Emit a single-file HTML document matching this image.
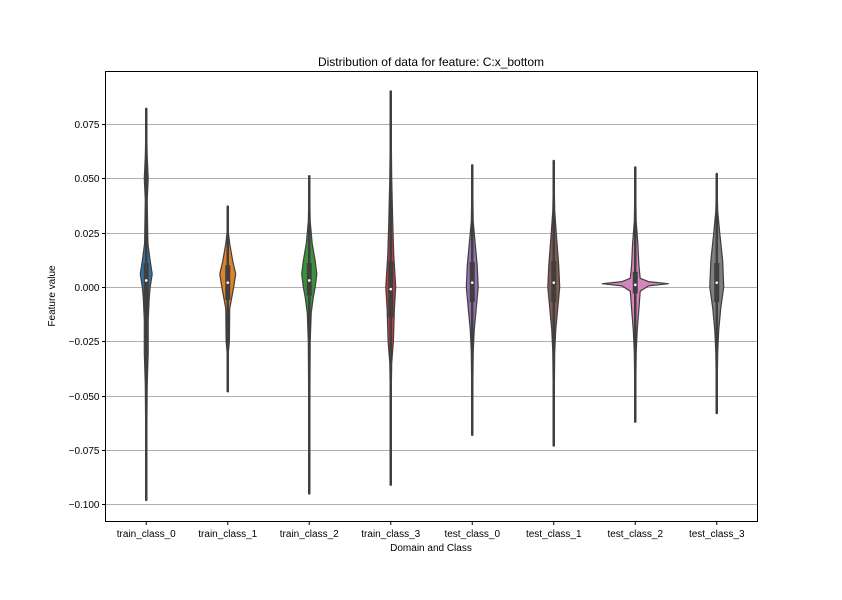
<!DOCTYPE html>
<html><head><meta charset="utf-8"><style>
body{margin:0;background:#fff}
text{font-family:"Liberation Sans",sans-serif;fill:#000}
</style></head><body>
<svg id="chart" width="842" height="595" viewBox="0 0 842 595" xmlns="http://www.w3.org/2000/svg">
<rect width="842" height="595" fill="#fff"/>
<g id="grid"></g>
<g id="violins"></g>
<rect x="105.5" y="71.5" width="652" height="450" fill="none" stroke="#000" stroke-width="1"/>
<g id="yticks"></g>
<g id="xticks"></g>
<text x="431" y="66" font-size="12" text-anchor="middle">Distribution of data for feature: C:x_bottom</text>
<text x="431" y="551" font-size="10" text-anchor="middle">Domain and Class</text>
<text transform="translate(55,296) rotate(-90)" font-size="10" text-anchor="middle">Feature value</text>
</svg>
<script>
const categories=["train_class_0","train_class_1","train_class_2","train_class_3","test_class_0","test_class_1","test_class_2","test_class_3"];
const colors=["#3274a1","#e1812c","#3a923a","#c03d3e","#9372b2","#845b53","#d684bd","#7f7f7f"];
const mins=[-0.098,-0.048,-0.095,-0.091,-0.068,-0.073,-0.062,-0.058];
const maxs=[0.082,0.037,0.051,0.090,0.056,0.058,0.055,0.052];
const q1s=[-0.013,-0.006,-0.004,-0.014,-0.007,-0.007,-0.003,-0.007];
const q3s=[0.011,0.010,0.011,0.012,0.0115,0.012,0.007,0.011];
const medians=[0.003,0.002,0.003,-0.001,0.002,0.002,0.001,0.002];
const densVals=[
 [0.082,0.06,0.05,0.04,0.02,0.012,0.006,0,-0.005,-0.015,-0.03,-0.045,-0.098],
 [0.037,0.025,0.02,0.012,0.006,0,-0.005,-0.01,-0.025,-0.03,-0.048],
 [0.051,0.03,0.02,0.012,0.006,0,-0.005,-0.012,-0.025,-0.095],
 [0.09,0.05,0.03,0.015,0,-0.01,-0.025,-0.035,-0.05,-0.091],
 [0.056,0.03,0.02,0.01,0,-0.01,-0.02,-0.03,-0.068],
 [0.058,0.035,0.022,0.01,0,-0.01,-0.02,-0.03,-0.073],
 [0.055,0.03,0.02,0.01,0.004,0.0025,0.0015,0.0005,-0.002,-0.01,-0.02,-0.03,-0.062],
 [0.052,0.035,0.025,0.012,0,-0.01,-0.02,-0.03,-0.058]];
const densities=[
 [0,0.03,0.06,0.03,0.05,0.12,0.18,0.12,0.09,0.06,0.06,0.03,0],
 [0,0.02,0.06,0.15,0.24,0.18,0.12,0.06,0.05,0.02,0],
 [0,0.03,0.09,0.18,0.23,0.18,0.12,0.06,0.03,0],
 [0,0.03,0.06,0.09,0.15,0.11,0.08,0.03,0.015,0],
 [0,0.03,0.09,0.15,0.18,0.12,0.06,0.03,0],
 [0,0.03,0.09,0.15,0.18,0.12,0.06,0.03,0],
 [0,0.03,0.08,0.11,0.15,0.4,1.0,0.4,0.15,0.11,0.06,0.03,0],
 [0,0.03,0.09,0.18,0.21,0.12,0.06,0.03,0]];
const yTicks=[0.075,0.05,0.025,0,-0.025,-0.05,-0.075,-0.1];
const yTickLabels=["0.075","0.050","0.025","0.000","\u22120.025","\u22120.050","\u22120.075","\u22120.100"];

const NS="http://www.w3.org/2000/svg";
const X0=105.5,X1=757.5;
function yScale(v){return 287-v*2172;}
function xScale(i){return X0+(i+0.5)*(X1-X0)/categories.length;}
const HALF=33;
function mk(tag,attrs,parent){const e=document.createElementNS(NS,tag);for(const k in attrs)e.setAttribute(k,attrs[k]);parent.appendChild(e);return e;}
const grid=document.getElementById('grid'),yt=document.getElementById('yticks'),xt=document.getElementById('xticks'),vg=document.getElementById('violins');
yTicks.forEach((t,i)=>{
 const y=Math.round(yScale(t))+0.5;
 const g=mk('line',{x1:X0,x2:X1,y1:y,y2:y,stroke:'#b0b0b0','stroke-width':1},grid);
 
 
 const tk=mk('line',{x1:X0-3.5,x2:X0,y1:y,y2:y,stroke:'#000'},yt);
 
 
 const tx=mk('text',{x:X0-6,y:y+3.5,'font-size':10,'text-anchor':'end'},yt);
 tx.textContent=yTickLabels[i];
 
 
});
categories.forEach((c,i)=>{
 const x=xScale(i);
 const tk=mk('line',{x1:x,x2:x,y1:521.5,y2:525,stroke:'#000'},xt);
 
 
 const tx=mk('text',{x:x,y:537,'font-size':10,'text-anchor':'middle'},xt);
 tx.textContent=c;
 
 
 const g=mk('g',{},vg);
 
 
 const vals=densVals[i],ds=densities[i];
 let pts=[];
 for(let k=0;k<vals.length;k++)pts.push((x+ds[k]*HALF).toFixed(1)+','+yScale(vals[k]).toFixed(1));
 for(let k=vals.length-1;k>=0;k--)pts.push((x-ds[k]*HALF).toFixed(1)+','+yScale(vals[k]).toFixed(1));
 const p=mk('polygon',{points:pts.join(' '),fill:colors[i],stroke:'#3f3f3f','stroke-width':1.2,'stroke-linejoin':'round'},g);
 
 
 const w=mk('line',{x1:x,x2:x,y1:yScale(maxs[i]),y2:yScale(mins[i]),stroke:'#3f3f3f','stroke-width':2.5,'stroke-linecap':'round'},g);
 
 
 const b=mk('rect',{x:x-2.5,y:yScale(q3s[i]),width:5,height:yScale(q1s[i])-yScale(q3s[i]),fill:'#3f3f3f'},g);
 
 
 const m=mk('circle',{cx:x,cy:yScale(medians[i]),r:1.3,fill:'#fff'},g);
 
 
});
</script>
</body></html>
